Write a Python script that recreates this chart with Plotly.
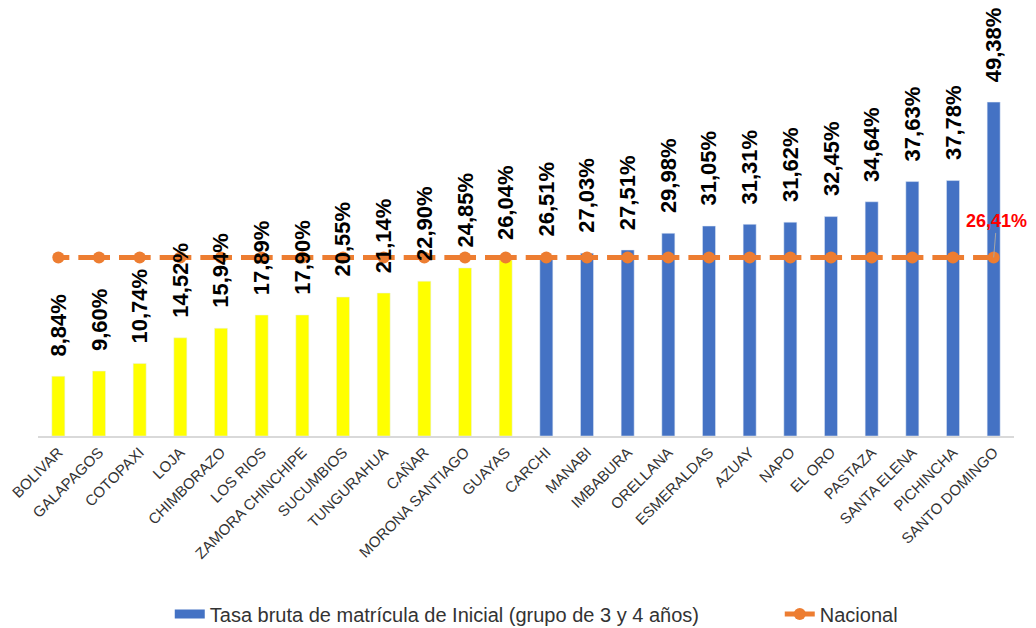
import plotly.graph_objects as go

provincias = ["BOLIVAR", "GALAPAGOS", "COTOPAXI", "LOJA", "CHIMBORAZO", "LOS RIOS",
              "ZAMORA CHINCHIPE", "SUCUMBIOS", "TUNGURAHUA", "CAÑAR", "MORONA SANTIAGO",
              "GUAYAS", "CARCHI", "MANABI", "IMBABURA", "ORELLANA", "ESMERALDAS", "AZUAY",
              "NAPO", "EL ORO", "PASTAZA", "SANTA ELENA", "PICHINCHA", "SANTO DOMINGO"]
tasa = [8.84, 9.60, 10.74, 14.52, 15.94, 17.89, 17.90, 20.55, 21.14, 22.90, 24.85,
        26.04, 26.51, 27.03, 27.51, 29.98, 31.05, 31.31, 31.62, 32.45, 34.64, 37.63,
        37.78, 49.38]
nacional = 26.41
n_bajo = 12  # provincias bajo el promedio nacional (amarillo)

serie_nombre = "Tasa bruta de matrícula de Inicial (grupo de 3 y 4 años)"
linea_nombre = "Nacional"

YELLOW = "#FFFF00"
BLUE = "#4472C4"
ORANGE = "#ED7D31"
FONT = "Liberation Sans, Arial, sans-serif"

def fmt(v):
    return f"{v:.2f}".replace(".", ",") + "%"

fig = go.Figure()
fig.add_trace(go.Bar(
    x=provincias[n_bajo:], y=tasa[n_bajo:], marker_color=BLUE, width=0.32,
    name=serie_nombre, showlegend=False, legendgroup="tasa"))
fig.add_trace(go.Bar(
    x=provincias[:n_bajo], y=tasa[:n_bajo], marker_color=YELLOW, width=0.32,
    showlegend=False, legendgroup="tasa"))
# legend swatch for the bar series (wide blue bar)
fig.add_trace(go.Scatter(
    x=[None], y=[None], mode="lines", name=serie_nombre, legendgroup="tasa",
    line=dict(color=BLUE, width=9), legend="legend"))
fig.add_trace(go.Scatter(
    x=provincias, y=[nacional] * len(provincias), mode="lines+markers",
    name=linea_nombre, legend="legend2",
    line=dict(color=ORANGE, width=5, dash="11px,9px,20.67px,0px"),
    marker=dict(color=ORANGE, size=12, symbol="circle")))

annotations = []
for p, v in zip(provincias, tasa):
    annotations.append(dict(
        x=p, y=v, text=fmt(v), showarrow=False, textangle=-90,
        xanchor="center", yanchor="bottom", yshift=18,
        font=dict(family=FONT, size=22, color="#000000", weight="bold")))
annotations.append(dict(
    x=provincias[-1], y=nacional, text=fmt(nacional), showarrow=True,
    arrowhead=0, arrowwidth=1, arrowcolor="#A6A6A6", ax=3, ay=-36,
    font=dict(family=FONT, size=18, color="#FF0000", weight="bold")))

legend_font = dict(size=20, color="#333333")
fig.update_layout(
    width=1028, height=620,
    paper_bgcolor="white", plot_bgcolor="white",
    barmode="overlay",
    margin=dict(l=30, r=22, t=0, b=192, autoexpand=False),
    font=dict(family=FONT, color="#333333"),
    xaxis=dict(categoryorder="array", categoryarray=provincias,
               tickangle=-45, tickfont=dict(size=15, color="#333333"),
               showline=True, linecolor="#D9D9D9", linewidth=1.5,
               showgrid=False, ticks="", range=[-0.5, 23.5]),
    yaxis=dict(range=[0, 63.3], visible=False, showgrid=False),
    legend=dict(orientation="h", x=0.135, xanchor="left", y=-0.416, yanchor="middle",
                font=legend_font),
    legend2=dict(orientation="h", x=0.76, xanchor="left", y=-0.416, yanchor="middle",
                 font=legend_font),
    annotations=annotations,
    showlegend=True,
)

fig.write_html("out.html")
